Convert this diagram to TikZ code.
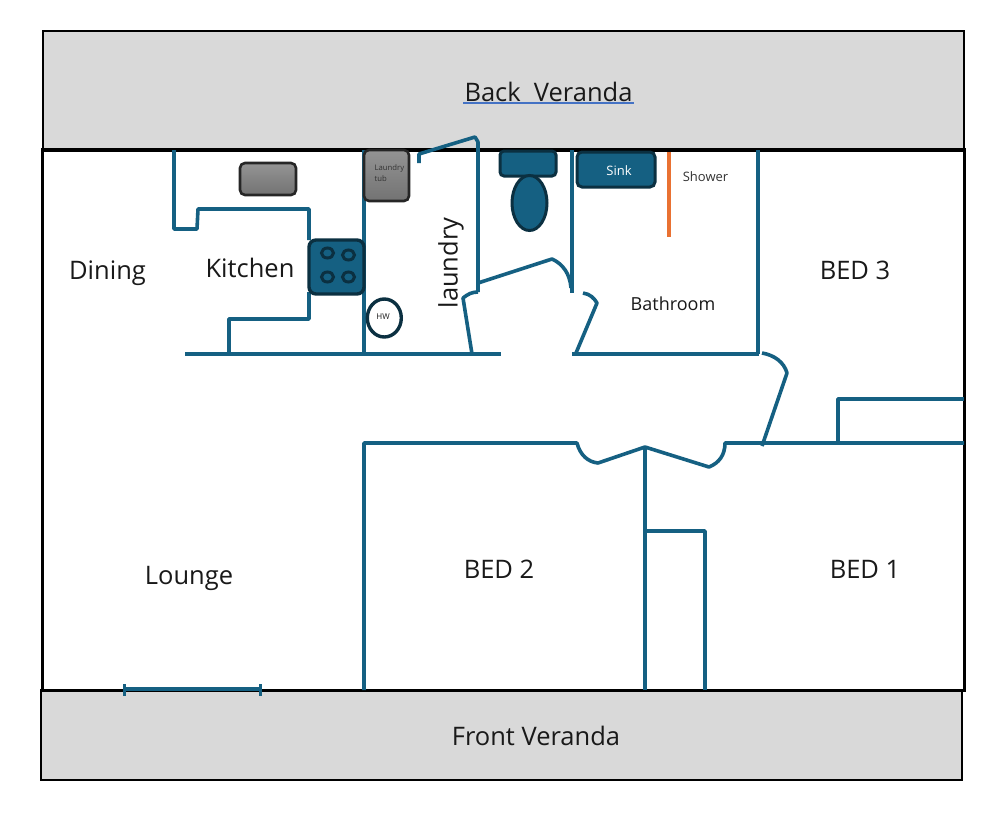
\documentclass[tikz,border=0pt]{standalone}
\usepackage{fontspec}
\usetikzlibrary{shapes.geometric}
\setmainfont{Open Sans}
\definecolor{wall}{HTML}{156082}
\definecolor{darkline}{HTML}{0B3041}
\definecolor{ver}{HTML}{D9D9D9}
\definecolor{orangeline}{HTML}{E97132}
\definecolor{uline}{HTML}{4472C4}
\tikzset{
  veranda/.style={draw=black,line width=2.4pt,fill=ver},
  wallline/.style={draw=wall,line width=3.6pt,line join=round},
  fixture/.style={draw=darkline,line width=3pt,fill=wall,rounded corners=5pt},
  grayfix/.style={draw=black!85,line width=2.6pt,top color=black!42,bottom color=black!55,rounded corners=5pt},
  burner/.style={draw=darkline,line width=3pt,fill=wall,ellipse},
  room/.style={font=\fontsize{25.5}{28}\selectfont,text=black!90,inner sep=0pt,anchor=base},
  small/.style={font=\fontsize{13}{15}\selectfont,text=black!80,inner sep=0pt,anchor=base},
}
\begin{document}
\begin{tikzpicture}[x=1pt,y=-1pt]
\useasboundingbox (0,0) rectangle (1000,825);
\fill[white] (0,0) rectangle (1000,825);
% verandas and house
\draw[veranda] (43,31) rectangle (964,149);
\draw[veranda] (41,690) rectangle (962,780);
\draw[black,line width=3pt] (42,149) rectangle (964,690);
\draw[black,line width=4pt] (41,149.5) -- (965,149.5);
% kitchen
\draw[wallline] (174,150) -- (174,229) -- (197,229) -- (198,209) -- (309,209) -- (309,240);
\draw[wallline] (309,292) -- (309,319) -- (229,319) -- (229,354);
\draw[wallline] (185,354) -- (501,354);
\draw[wallline] (364,150) -- (364,354);
% laundry door and wall
\draw[wallline] (419,163) -- (419,154) -- (475,137) -- (478,142) -- (478,292);
\draw[wallline] (472,354) -- (463,298) .. controls (468,294) and (472,292) .. (478,292);
% toilet door and wall
\draw[wallline] (478,283) -- (552,259) .. controls (563,264) and (570,274) .. (571,288);
\draw[wallline] (572,150) -- (572,293);
\draw[wallline] (583,293) .. controls (590,294) and (594,298) .. (597,303) -- (576,353);
% bathroom
\draw[wallline] (572,354) -- (759,354);
\draw[wallline] (758,150) -- (758,354);
\draw[wallline] (762,353) .. controls (774,355) and (784,362) .. (787,373) -- (762,446);
% bedrooms
\draw[wallline] (364,690) -- (364,443) -- (577,443) .. controls (580,455) and (588,462) .. (598,463) -- (645,447) -- (709,467) .. controls (719,463) and (725,455) .. (725,443) -- (964,443);
\draw[wallline] (645,447) -- (645,690);
\draw[wallline] (645,531) -- (705,531) -- (705,690);
\draw[wallline] (838,443) -- (838,399) -- (964,399);
% window
\draw[wallline] (124,689) -- (260,689);
\draw[wallline,line width=3pt] (124,684) -- (124,696);
\draw[wallline,line width=3pt] (260,684) -- (260,696);
% fixtures
\draw[grayfix] (240,163) rectangle (296,195);
\draw[grayfix] (364,150) rectangle (409,201);
\draw[fixture,rounded corners=7pt,line width=3.4pt] (309,240) rectangle (364,294);
\foreach \n/\cx/\cy in {a/327.5/253,b/348.5/255,c/327.5/277,d/348.5/277}
  \node[burner,minimum width=12pt,minimum height=10pt,inner sep=0pt] (burner\n) at (\cx,\cy) {};
\node[draw=darkline,line width=3.4pt,fill=white,ellipse,minimum width=34pt,minimum height=38pt,inner sep=0pt] (hw) at (384.3,318) {};
\draw[fixture,rounded corners=4pt] (500,151) rectangle (556,176);
\node[draw=darkline,line width=3pt,fill=wall,ellipse,minimum width=35pt,minimum height=55pt,inner sep=0pt] (bowl) at (529.5,203) {};
\draw[fixture] (577,152) rectangle (655,187);
\draw[orangeline,line width=3.6pt] (669,152) -- (669,237);
% labels
\node[room] (backv) at (548.5,101) {Back\ \ Veranda};
\draw[uline,line width=1.8pt] (463,103) -- (634,103);
\node[room] (front) at (536,745) {Front Veranda};
\node[room] (dining) at (107.5,279) {Dining};
\node[room] (kitchen) at (250,277) {Kitchen};
\node[room,rotate=90] (laundry) at (457.5,263) {laundry};
\node[room] (lounge) at (189,584) {Lounge};
\node[room] (bed2) at (499,578) {BED 2};
\node[room] (bed1) at (865,578) {BED 1};
\node[room] (bed3) at (855,279) {BED 3};
\node[font=\fontsize{18}{20}\selectfont,text=black!90,inner sep=0pt,anchor=base] (bathroom) at (673,310) {Bathroom};
\node[small] (shower) at (705.5,181) {Shower};
\node[font=\fontsize{13}{15}\selectfont,text=white,inner sep=0pt,anchor=base] (sink) at (619,175) {Sink};
\node[font=\fontsize{7.7}{9}\selectfont,text=black!80,inner sep=0pt,anchor=base west] (tub1) at (374.5,170) {Laundry};
\node[font=\fontsize{7.7}{9}\selectfont,text=black!80,inner sep=0pt,anchor=base west] (tub2) at (374.5,181) {tub};
\node[font=\fontsize{8}{9}\selectfont,text=black!90,inner sep=0pt,anchor=base] (hwt) at (383,319) {HW};
\end{tikzpicture}
\end{document}
